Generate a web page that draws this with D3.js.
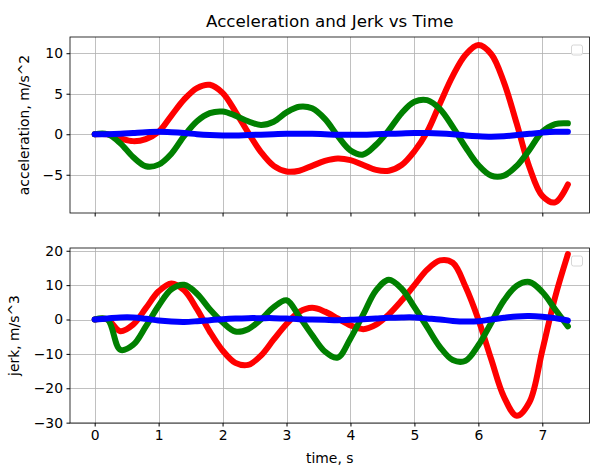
<html>
<head>
<meta charset="utf-8">
<script src="https://cdn.jsdelivr.net/npm/d3@7"></script>
<style>
  body { margin: 0; background: #fff; }
  text { font-family: "DejaVu Sans", sans-serif; fill: #000; }
</style>
</head>
<body>
<script>
// time samples, s
var time = d3.range(38).map(function(i){ return +(i * 0.2).toFixed(1); });

// acceleration, m/s^2
var accX = [0, 0, -0.5, -0.85, -0.6, 0.3, 2.3, 4.3, 5.7, 6.1,
            5.1, 2.8, 0.2, -2.2, -3.9, -4.6, -4.5, -3.9, -3.3, -3.0,
            -3.2, -3.8, -4.4, -4.5, -3.8, -2.1, 0.3, 3.8, 7.2, 9.8,
            11.0, 9.9, 6.4, 1.3, -4.1, -7.6, -8.4, -6.2];
var accY = [0, 0, -1.1, -2.8, -3.95, -3.75, -2.4, -0.2, 1.6, 2.6,
            2.8, 2.3, 1.6, 1.15, 1.55, 2.7, 3.4, 3.2, 1.9, -0.2,
            -2.0, -2.5, -1.3, 0.5, 2.6, 4.0, 4.2, 3.1, 0.9, -1.6,
            -3.8, -5.1, -5.1, -3.9, -1.9, 0.3, 1.25, 1.35];
var accZ = [0, 0, 0.05, 0.15, 0.25, 0.3, 0.25, 0.15, 0.0, -0.1,
            -0.15, -0.15, -0.1, -0.05, 0.0, 0.05, 0.05, 0.05, 0.0, -0.05,
            -0.05, -0.05, 0.0, 0.05, 0.1, 0.15, 0.15, 0.1, 0.0, -0.15,
            -0.25, -0.3, -0.25, -0.1, 0.05, 0.2, 0.3, 0.3];

// jerk, m/s^3
var jerkX = [0, 0, -3.4, -1.5, 3.3, 8.2, 10.5, 8.5, 3.0, -3.5,
             -9.0, -12.6, -13.2, -10.5, -5.8, -1.3, 2.2, 3.4, 2.3, 0.3,
             -1.7, -2.8, -1.5, 1.5, 5.5, 10.0, 14.5, 17.2, 16.5, 9.5,
             0.0, -11.5, -22.5, -28.0, -24.0, -9.0, 6.5, 19.0];
var jerkY = [0, 0, -8.8, -7.4, -2.0, 4.0, 8.8, 10.1, 7.5, 3.0,
             -0.8, -3.5, -2.8, 0.0, 3.6, 5.6, 0.8, -4.5, -9.3, -11.1,
             -5.5, 1.5, 8.5, 11.6, 9.0, 3.6, -2.2, -8.0, -11.8, -12.0,
             -7.5, -1.0, 5.5, 9.8, 10.9, 8.0, 3.0, -2.0];
var jerkZ = [0, 0.3, 0.6, 0.6, 0.2, -0.3, -0.6, -0.7, -0.5, -0.2,
             0.1, 0.3, 0.4, 0.4, 0.4, 0.3, 0.1, 0.0, -0.1, -0.2,
             -0.1, 0.1, 0.3, 0.5, 0.6, 0.6, 0.3, 0.0, -0.4, -0.6,
             -0.5, 0.0, 0.5, 0.9, 1.0, 0.8, 0.4, -0.3];

var xTicks = [0, 1, 2, 3, 4, 5, 6, 7];
var accTicks = [-5, 0, 5, 10];
var jerkTicks = [-30, -20, -10, 0, 10, 20];
var colors = ["#ff0000", "#008000", "#0000ff"];

var width = 592;
var height = 469;

var svg = d3.select("body").append("svg")
    .attr("width", width)
    .attr("height", height);

svg.append("rect").attr("width", width).attr("height", height).attr("fill", "#fff");

var left = 70, right = 589.5;

var x = d3.scaleLinear().domain([-0.386, 7.738]).range([left, right]);

// one subplot
function panel(top, bottom, yDomain, yTicks, series, ylabel, ylabelX, showXLabels) {
    var y = d3.scaleLinear().domain(yDomain).range([bottom, top]);
    var g = svg.append("g");

    // grid
    g.selectAll(".gx").data(xTicks).enter().append("line")
        .attr("x1", function(d){ return Math.round(x(d)) + 0.5; })
        .attr("x2", function(d){ return Math.round(x(d)) + 0.5; })
        .attr("y1", top).attr("y2", bottom)
        .attr("stroke", "#b0b0b0").attr("stroke-width", 0.8);
    g.selectAll(".gy").data(yTicks).enter().append("line")
        .attr("y1", function(d){ return Math.round(y(d)) + 0.5; })
        .attr("y2", function(d){ return Math.round(y(d)) + 0.5; })
        .attr("x1", left).attr("x2", right)
        .attr("stroke", "#b0b0b0").attr("stroke-width", 0.8);

    var clipId = "clip" + Math.round(top);
    svg.append("clipPath").attr("id", clipId).append("rect")
        .attr("x", left).attr("y", top).attr("width", right - left).attr("height", bottom - top);

    var line = d3.line()
        .x(function(d, i){ return x(time[i]); })
        .y(function(d){ return y(d); })
        .curve(d3.curveCatmullRom.alpha(0.5));

    g.append("g").attr("clip-path", "url(#" + clipId + ")")
        .selectAll("path").data(series).enter().append("path")
        .attr("d", line)
        .attr("fill", "none")
        .attr("stroke", function(d, i){ return colors[i]; })
        .attr("stroke-width", 6)
        .attr("stroke-linecap", "round")
        .attr("stroke-linejoin", "round");

    // axes
    var yAxis = d3.axisLeft(y).tickValues(yTicks).tickSize(3.5).tickPadding(3.5)
        .tickFormat(d3.format("d"));
    var gy = g.append("g").attr("transform", "translate(" + left + ",0)").call(yAxis);
    gy.select(".domain").remove();
    gy.selectAll("text").style("font-size", "13.9px").style("font-family", "DejaVu Sans");

    var xAxis = d3.axisBottom(x).tickValues(xTicks).tickSize(3.5).tickPadding(3.5)
        .tickFormat(showXLabels ? d3.format("d") : "");
    var gx = g.append("g").attr("transform", "translate(0," + bottom + ")").call(xAxis);
    gx.select(".domain").remove();
    gx.selectAll("text").style("font-size", "13.9px").style("font-family", "DejaVu Sans");

    g.append("rect")
        .attr("x", left).attr("y", top)
        .attr("width", right - left).attr("height", bottom - top)
        .attr("fill", "none").attr("stroke", "#000").attr("stroke-width", 0.8);

    g.append("text")
        .attr("transform", "translate(" + ylabelX + "," + (top + bottom) / 2 + ") rotate(-90)")
        .attr("text-anchor", "middle")
        .style("font-size", "13.9px")
        .text(ylabel);

    // empty legend
    g.append("rect")
        .attr("x", right - 18).attr("y", top + 8)
        .attr("width", 11).attr("height", 10)
        .attr("rx", 2)
        .attr("fill", "#fff").attr("fill-opacity", 0.8)
        .attr("stroke", "#d6d6d6").attr("stroke-width", 1);
}

panel(37, 213, [-9.72, 12.0], accTicks, [accX, accY, accZ], "acceleration, m/s^2", 29, false);
panel(248, 423, [-30.1, 20.8], jerkTicks, [jerkX, jerkY, jerkZ], "jerk, m/s^3", 19, true);

svg.append("text")
    .attr("x", (left + right) / 2).attr("y", 27)
    .attr("text-anchor", "middle")
    .style("font-size", "16.7px")
    .text("Acceleration and Jerk vs Time");

svg.append("text")
    .attr("x", (left + right) / 2).attr("y", 463)
    .attr("text-anchor", "middle")
    .style("font-size", "13.9px")
    .text("time, s");
</script>
</body>
</html>
